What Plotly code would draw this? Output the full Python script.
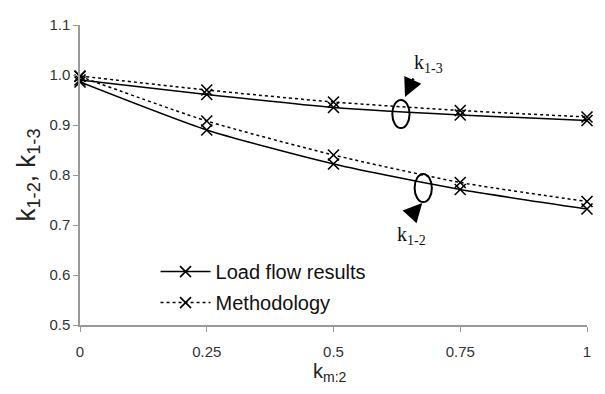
import plotly.graph_objects as go

km2 = [0, 0.25, 0.5, 0.75, 1]
lf_k13 = [0.990, 0.961, 0.935, 0.920, 0.909]
me_k13 = [0.998, 0.970, 0.946, 0.929, 0.916]
lf_k12 = [0.986, 0.890, 0.822, 0.771, 0.732]
me_k12 = [0.997, 0.908, 0.840, 0.785, 0.747]

x_ticks = [0, 0.25, 0.5, 0.75, 1]
x_tick_text = ["0", "0.25", "0.5", "0.75", "1"]
y_ticks = [0.5, 0.6, 0.7, 0.8, 0.9, 1.0, 1.1]

fig = go.Figure()

def add(y, dash, name, show):
    fig.add_trace(go.Scatter(
        x=km2, y=y, mode="lines+markers", name=name, legendgroup=name,
        showlegend=show, cliponaxis=False,
        line=dict(color="black", width=1.5, dash=dash, shape="spline", smoothing=0.6),
        marker=dict(symbol="x-thin-open", size=11, color="black",
                    line=dict(color="black", width=1.6)),
    ))

add(lf_k12, "solid", "Load flow results", True)
add(me_k12, "dot", "Methodology", True)
add(lf_k13, "solid", "Load flow results", False)
add(me_k13, "dot", "Methodology", False)

# ellipses
for cx, cy in [(0.633, 0.922), (0.677, 0.774)]:
    fig.add_shape(type="circle", xref="x", yref="y",
                  x0=cx - 0.017, x1=cx + 0.017, y0=cy - 0.028, y1=cy + 0.028,
                  line=dict(color="black", width=2))

serif = dict(family="Liberation Serif", size=20, color="#111")
fig.add_annotation(x=0.641, y=0.956, ax=0.659, ay=0.996, xref="x", yref="y",
                   axref="x", ayref="y", showarrow=True, arrowhead=2,
                   arrowsize=1.5, arrowwidth=2.5, arrowcolor="black", text="")
fig.add_annotation(x=0.687, y=1.024, xref="x", yref="y", showarrow=False,
                   text="k<sub>1-3</sub>", font=serif)
fig.add_annotation(x=0.675, y=0.744, ax=0.648, ay=0.714, xref="x", yref="y",
                   axref="x", ayref="y", showarrow=True, arrowhead=2,
                   arrowsize=1.5, arrowwidth=2.5, arrowcolor="black", text="")
fig.add_annotation(x=0.653, y=0.680, xref="x", yref="y", showarrow=False,
                   text="k<sub>1-2</sub>", font=serif)

# axis titles
fig.add_annotation(x=-0.142, y=0.5, xref="paper", yref="paper", showarrow=False,
                   textangle=-90, text="k<sub>1-2</sub>, k<sub>1-3</sub>",
                   font=dict(size=26, color="#222"))
fig.add_annotation(x=0.494, y=-0.205, xref="paper", yref="paper", showarrow=False,
                   text="k<sub>m:2</sub>", font=dict(size=20, color="#222"))

# the page body adds an 8px offset, so the figure is sized 597x386
fig.update_layout(
    width=597, height=386,
    margin=dict(l=72, r=17.5, t=17, b=69, autoexpand=False),
    paper_bgcolor="white", plot_bgcolor="white",
    font=dict(family="Liberation Sans, Arial", color="#222", size=15),
    legend=dict(x=0.149, y=0.243, xanchor="left", yanchor="top",
                bgcolor="rgba(0,0,0,0)", font=dict(size=20, color="#111"),
                tracegroupgap=2, itemwidth=50),
    xaxis=dict(range=[0, 1], tickvals=x_ticks, ticktext=x_tick_text,
               showgrid=False, zeroline=False, showline=True, linecolor="#999",
               linewidth=1.5, ticks="outside", ticklen=5, tickcolor="#999",
               ticklabelstandoff=7,
               tickfont=dict(size=15, color="#333"), automargin=False),
    yaxis=dict(range=[0.5, 1.1], tickvals=y_ticks, tickformat=".1f",
               showgrid=False, zeroline=False, showline=True, linecolor="#999",
               linewidth=1.5, ticks="outside", ticklen=5, tickcolor="#999",
               tickfont=dict(size=15, color="#333"), automargin=False),
)

fig.write_html("out.html")
